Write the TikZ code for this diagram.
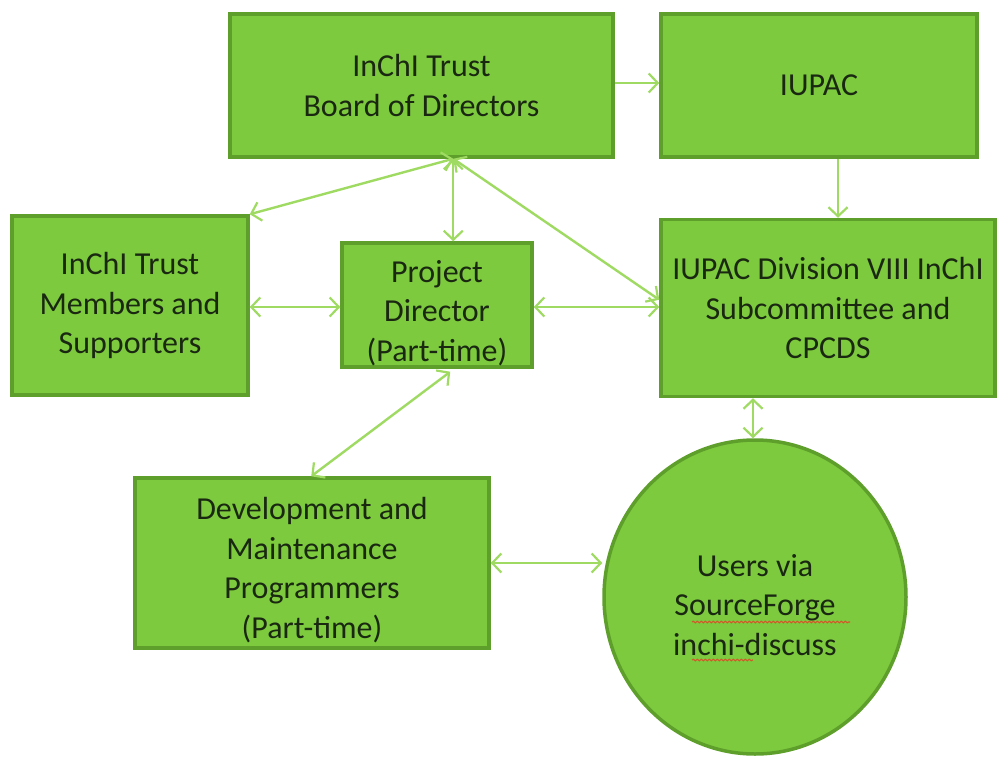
\documentclass[tikz,border=0pt]{standalone}
\usepackage{fontspec}
\setmainfont{Carlito}
\usetikzlibrary{arrows.meta,calc,shapes.geometric,decorations.pathmorphing}
\definecolor{boxfill}{HTML}{7DCA3E}
\definecolor{boxedge}{HTML}{5E9F2C}
\definecolor{arrowcol}{HTML}{9FDA62}
\definecolor{txt}{HTML}{1A2812}
\definecolor{spell}{HTML}{D2582A}
\begin{document}
\begin{tikzpicture}[x=1pt,y=-1pt,
  box/.style={draw=boxedge,fill=boxfill,line width=3.5pt,inner sep=0pt,align=center,
    text=txt,font=\fontsize{32}{39.5}\selectfont},
  lbl/.style={inner sep=0pt,align=center,text=txt,font=\fontsize{32}{39.5}\selectfont},
  link/.style={draw=arrowcol,line width=2.4pt,
    {Straight Barb[length=9pt,width=19pt,line width=2.2pt]}-{Straight Barb[length=9pt,width=19pt,line width=2.2pt]}},
  onelink/.style={draw=arrowcol,line width=2.4pt,
    -{Straight Barb[length=9pt,width=19pt,line width=2.2pt]}},
  squig/.style={draw=spell,line width=1.1pt,decorate,decoration={snake,amplitude=0.8pt,segment length=4pt}}]
\useasboundingbox (0,0) rectangle (997,763);

\node[box,minimum width=383pt,minimum height=143pt] (board) at (421.5,85.5) {InChI Trust\\Board of Directors};
\node[box,minimum width=316pt,minimum height=143pt] (iupac) at (819,85.5) {IUPAC};
\node[box,minimum width=236pt,minimum height=179pt] (members) at (130,305.5) {InChI Trust\\Members and\\Supporters};
\node[box,minimum width=190pt,minimum height=124pt] (pd) at (437,305) {};
\node[lbl] (pdtext) at ($(pd.center)+(0,8)$) {Project\\Director\\(Part-time)};
\node[box,minimum width=334pt,minimum height=177pt] (div) at (828,308) {IUPAC Division VIII InChI\\Subcommittee and\\CPCDS};
\node[box,minimum width=354pt,minimum height=170pt] (dev) at (312,563) {};
\node[lbl] (devtext) at ($(dev.center)+(0,7)$) {Development and\\Maintenance\\Programmers\\(Part-time)};
\node[box,ellipse,minimum width=302pt,minimum height=314pt] (users) at (755,597) {};
\node[lbl] (userstext) at ($(users.center)+(0,8)$) {Users via\\SourceForge\\inchi-discuss};

% spell-check underlines
\coordinate (sq1a) at ($(users.center)+(-63,25)$);
\coordinate (sq1b) at ($(users.center)+(95,25)$);
\coordinate (sq2a) at ($(users.center)+(-63,63)$);
\coordinate (sq2b) at ($(users.center)+(-2,63)$);
\draw[squig] (sq1a) -- (sq1b);
\draw[squig] (sq2a) -- (sq2b);

% connectors
\coordinate (bs) at ($(board.south west)+(225,0)$);
\draw[onelink] (board.east |- 0,83) -- (iupac.west |- 0,83);
\draw[onelink] (iupac.south -| 838,0) -- (div.north -| 838,0);
\draw[link] (bs) -- (members.north east);
\draw[link] (bs) -- (pd.north -| bs);
\draw[link] (bs) -- ($(div.north west)+(0,82)$);
\draw[link] (members.east |- 0,307) -- (pd.west |- 0,307);
\draw[link] (pd.east |- 0,307) -- (div.west |- 0,307);
\draw[link] ($(pd.south west)+(110,3)$) -- ($(dev.north west)+(178,0)$);
\draw[link] (div.south -| 753,0) -- (users.north -| 753,0);
\draw[link] (dev.east |- 0,563) -- (users.west |- 0,563);
\end{tikzpicture}
\end{document}
